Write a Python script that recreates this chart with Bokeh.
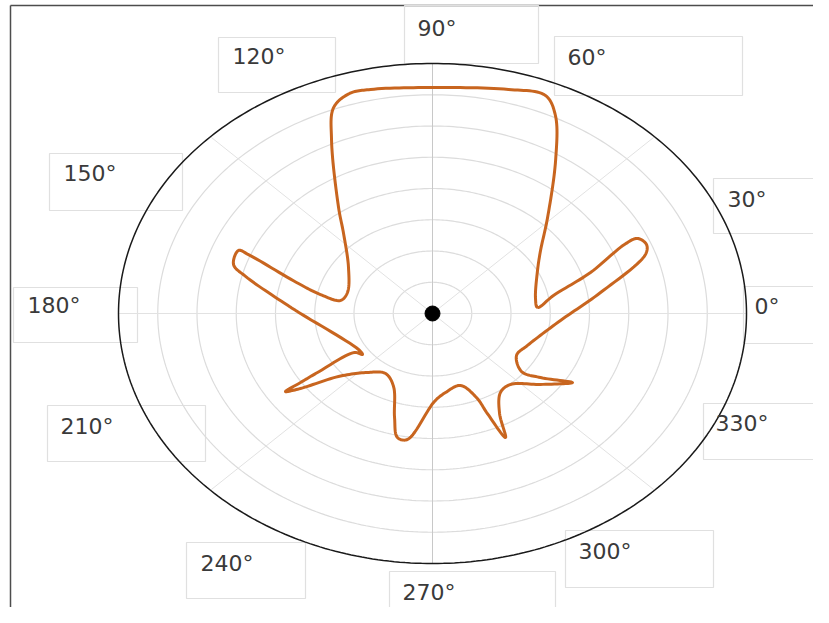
import numpy as np
from bokeh.plotting import figure
from bokeh.models import Range1d
from bokeh.core.properties import value
from bokeh.embed import file_html
from bokeh.resources import INLINE

# ---- data: traced pattern (angle in degrees, radius in ring units, 8 = outer ring)
angle_deg = [4.1, 10.6, 18.05, 24.3, 24.7, 22.05, 19.2, 8.9, 356.1, 337.1,
             327.9, 320.7, 323.3, 328.2, 320.5, 311.2, 304.4, 298.1, 295.1, 293.6,
             292.6, 287.2, 277.5, 271.0, 261.0, 257.3, 253.8, 247.0, 238.1, 228.7,
             220.1, 215.5, 213.7, 213.3, 212.8, 212.1, 216.3, 211.4, 180.0, 175.6,
             166.0, 162.8, 157.8, 158.1, 164.0, 168.0, 169.9, 162.8, 145.5, 131.5,
             125.2, 114.8, 110.9, 106.7, 102.4, 90.0, 74.9, 67.6, 63.7, 57.5,
             46.1, 36.2, 27.2, 10.4]
radius = [2.682, 3.136, 4.234, 5.367, 5.748, 5.882, 5.746, 4.333, 3.269, 2.628,
          2.527, 2.931, 3.430, 4.195, 3.569, 3.018, 3.064, 3.627, 4.382, 3.493,
          2.912, 2.412, 2.550, 2.816, 4.082, 4.067, 3.466, 2.539, 2.263, 2.511,
          3.131, 4.132, 4.501, 4.023, 3.486, 2.347, 2.214, 2.209, 3.363, 3.731,
          4.909, 5.307, 5.338, 5.054, 3.604, 2.918, 2.381, 2.268, 2.597, 3.420,
          4.152, 6.134, 7.058, 7.351, 7.340, 7.232, 7.425, 7.547, 7.068, 5.840,
          4.222, 3.411, 3.008, 2.668]

ring_levels = [1, 2, 3, 4, 5, 6, 7]
outer_ring = 8
spoke_angles = [0, 45, 90, 135, 180, 225, 270, 315]
tick_labels = ["0°", "30°", "60°", "90°", "120°", "150°",
               "180°", "210°", "240°", "270°", "300°", "330°"]

# ---- layout (pixels of the figure)
W, H = 813, 607
CX, CY = 432, 313           # centre of the polar area
KX, KY = 39.25, 31.25       # px per ring unit


def dx(X):
    return (X - CX) / KX


def dy(Y):
    return (CY - Y) / KY


# label boxes: left, top, right, bottom, text x, text y (px)
label_boxes = [
    (743, 286, 829, 343, 754, 306),
    (713, 178, 829, 233, 727, 199),
    (554, 36, 742, 95, 567, 57),
    (404, 5, 538, 63, 417, 28),
    (218, 37, 335, 92, 232, 56),
    (49, 153, 182, 210, 63, 173),
    (13, 287, 137, 342, 27, 305),
    (47, 405, 205, 461, 60, 426),
    (186, 542, 305, 598, 200, 563),
    (389, 571, 555, 630, 402, 592),
    (565, 530, 713, 587, 578, 551),
    (703, 403, 817, 459, 715, 423),
]


def smooth_closed(xs, ys, n=14, alpha=0.5):
    """Centripetal Catmull-Rom rendering of a closed traced path (pixel space)."""
    P = np.column_stack([np.asarray(xs) * KX, np.asarray(ys) * KY])
    m = len(P)
    out = []
    for i in range(m):
        p0, p1, p2, p3 = P[(i - 1) % m], P[i], P[(i + 1) % m], P[(i + 2) % m]
        t0 = 0.0
        t1 = t0 + max(np.linalg.norm(p1 - p0), 1e-6) ** alpha
        t2 = t1 + max(np.linalg.norm(p2 - p1), 1e-6) ** alpha
        t3 = t2 + max(np.linalg.norm(p3 - p2), 1e-6) ** alpha
        for t in np.linspace(t1, t2, n, endpoint=False):
            a1 = (t1 - t) / (t1 - t0) * p0 + (t - t0) / (t1 - t0) * p1
            a2 = (t2 - t) / (t2 - t1) * p1 + (t - t1) / (t2 - t1) * p2
            a3 = (t3 - t) / (t3 - t2) * p2 + (t - t2) / (t3 - t2) * p3
            b1 = (t2 - t) / (t2 - t0) * a1 + (t - t0) / (t2 - t0) * a2
            b2 = (t3 - t) / (t3 - t1) * a2 + (t - t1) / (t3 - t1) * a3
            c = (t2 - t) / (t2 - t1) * b1 + (t - t1) / (t2 - t1) * b2
            out.append(c)
    out.append(out[0])
    out = np.array(out)
    return out[:, 0] / KX, out[:, 1] / KY


p = figure(width=W, height=H, output_backend="svg", toolbar_location=None,
           x_range=Range1d(dx(0), dx(W)),
           y_range=Range1d(dy(H), dy(0)),
           min_border=0)
p.axis.visible = False
p.xgrid.visible = False
p.ygrid.visible = False
p.outline_line_color = None
p.background_fill_color = "white"
p.border_fill_color = "white"

# frame lines
p.line([dx(10), dx(10)], [dy(5), dy(H)], line_color="#4d4d4d", line_width=1.5)
p.line([dx(10), dx(W)], [dy(5), dy(5)], line_color="#4d4d4d", line_width=1.5)

# label boxes
p.quad(left=[dx(b[0]) for b in label_boxes], right=[dx(b[2]) for b in label_boxes],
       top=[dy(b[1]) for b in label_boxes], bottom=[dy(b[3]) for b in label_boxes],
       fill_color=None, line_color="#e0e0e0", line_width=1.2)

# grid rings
t = np.linspace(0, 2 * np.pi, 361)
for r in ring_levels:
    p.line(r * np.cos(t), r * np.sin(t), line_color="#dcdcdc", line_width=1.2)

# spokes
for a in spoke_angles:
    ar = np.deg2rad(a)
    col = "#c8c8c8" if a in (90, 270) else "#e2e2e2"
    p.line([0, outer_ring * np.cos(ar)], [0, outer_ring * np.sin(ar)],
           line_color=col, line_width=1)

# outer ring
p.line(outer_ring * np.cos(t), outer_ring * np.sin(t), line_color="#1a1a1a", line_width=1.5)

# pattern
ang = np.deg2rad(np.array(angle_deg))
rad = np.array(radius)
sx, sy = smooth_closed(rad * np.cos(ang), rad * np.sin(ang))
p.line(sx, sy, line_color="#C8651F", line_width=3, line_join="round")

# centre dot
p.scatter([0], [0], size=15, color="black")

# tick labels
p.text(x=[dx(b[4]) for b in label_boxes], y=[dy(b[5]) for b in label_boxes],
       text=tick_labels, text_font=value("DejaVu Sans"), text_font_size="22px",
       text_color="#3a3a3a", text_align="left", text_baseline="middle")

open("out.html", "w").write(file_html(p, INLINE))
